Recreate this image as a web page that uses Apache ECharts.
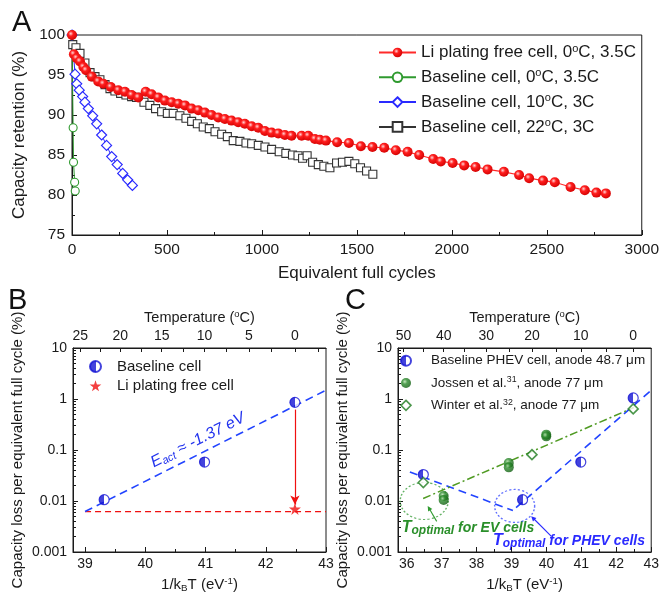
<!DOCTYPE html>
<html>
<head>
<meta charset="utf-8">
<script src="https://cdn.jsdelivr.net/npm/echarts@6/dist/echarts.min.js"></script>
<style>
  html, body { margin: 0; padding: 0; background: #fff; }
  #chart { width: 662px; height: 594px; }
</style>
</head>
<body>
<div id="chart"></div>
<script>
// ---------- constants ----------
const KB = 8.617333e-5;                       // Boltzmann constant, eV/K
const invKT = tC => 1 / (KB * (tC + 273.15)); // 1/kBT in eV^-1
const tempOf = x => 1 / (KB * x) - 273.15;    // back to degrees C

// ---------- panel A: capacity retention vs equivalent full cycles ----------
const liFreeCycles = [0, 10, 25, 42, 60, 74, 104, 138, 165, 204, 244, 279, 314, 349, 388, 419, 454, 489, 525, 560,
  595, 630, 665, 700, 735, 770, 805, 840, 875, 910, 946, 981, 1016, 1051, 1086, 1121, 1156, 1209, 1244, 1279,
  1305, 1337, 1396, 1458, 1521, 1582, 1644, 1705, 1767, 1828, 1902, 1942, 2004, 2065, 2125, 2188, 2274, 2354, 2407, 2480,
  2542, 2625, 2700, 2761, 2811];
const liFreeRetention = [100, 97.6, 97.1, 96.7, 96.0, 95.6, 94.8, 94.2, 93.9, 93.5, 93.1, 92.9, 92.5, 92.2, 92.9, 92.6, 92.2, 91.8, 91.6, 91.4,
  91.2, 90.8, 90.6, 90.3, 90.0, 89.7, 89.5, 89.3, 89.1, 88.9, 88.6, 88.4, 88.0, 87.8, 87.7, 87.5, 87.4, 87.4, 87.4, 87.0,
  86.9, 86.8, 86.6, 86.5, 86.1, 86.0, 85.9, 85.6, 85.4, 85.0, 84.5, 84.2, 84.0, 83.7, 83.5, 83.2, 82.9, 82.5, 82.1, 81.8,
  81.6, 81.0, 80.6, 80.3, 80.2];

const base0Cycles = [0, 6, 8, 14, 17];
const base0Retention = [100, 88.4, 84.1, 81.6, 80.5];

const base10Cycles = [0, 16, 25, 38, 56, 68, 86, 109, 130, 156, 182, 209, 238, 267, 293, 318];
const base10Retention = [100, 95.1, 93.9, 93.1, 92.3, 91.6, 90.8, 89.9, 88.9, 87.5, 86.2, 84.8, 83.8, 82.7, 81.9, 81.2];

const base22Cycles = [4, 21, 42, 68, 95, 121, 147, 174, 200, 226, 256, 284, 314, 340, 379, 410, 440, 472, 502, 533,
  568, 600, 630, 660, 691, 723, 753, 788, 818, 849, 884, 916, 946, 981, 1016, 1051, 1091, 1126, 1161, 1190,
  1214, 1238, 1267, 1297, 1326, 1358, 1393, 1424, 1458, 1489, 1519, 1551, 1584];
const base22Retention = [98.8, 98.4, 97.7, 96.5, 95.3, 94.8, 94.4, 93.8, 93.3, 93.0, 92.7, 92.5, 92.3, 92.2, 91.6, 91.2, 90.8, 90.4, 90.2, 90.2,
  89.9, 89.6, 89.2, 88.9, 88.5, 88.3, 87.9, 87.6, 87.3, 86.8, 86.7, 86.5, 86.4, 86.2, 86.0, 85.7, 85.4, 85.2, 85.0, 84.9,
  84.6, 84.9, 84.1, 83.8, 83.6, 83.4, 84.0, 84.1, 84.2, 83.9, 83.4, 83.0, 82.6];

// ---------- panel B: Arrhenius plot, baseline vs Li plating free ----------
const baselineTempsB = [22, 10, 0];
const baselineLossB = [0.0106, 0.058, 0.86];
const platingFreeTempsB = [0];
const platingFreeLossB = [0.0070];
const platingFloorLoss = 0.0062;     // dashed floor level
const eActB = -1.37;                 // activation energy, eV
const fitRangeB = [39, 43];
const arrowLossB = [0.62, 0.0085];   // red arrow from/to

// ---------- panel C: comparison with literature ----------
const phevTempsC = [45, 22, 10, 0];
const phevLossC = [0.033, 0.0106, 0.058, 1.05];
const jossenTempsC = [40, 40, 25, 25, 17, 17];
const jossenLossC = [0.0125, 0.0105, 0.0556, 0.0457, 0.20, 0.185];
const winterTempsC = [45, 20, 0];
const winterLossC = [0.023, 0.081, 0.64];
const phevLowArmX = [36.09, 39.04];
const phevLowArmLoss = [0.037, 0.0065];
const phevHighArmX = [39.13, 43];
const evFitX = [36.47, 42.5];
const evFitLoss = [0.0112, 0.68];
const evRing = [36.5, 0.010];
const phevRing = [39.09, 0.008];

// ---------- axis tick labels ----------
const xTicksB = [39, 40, 41, 42, 43];
const xMinorB = [39.5, 40.5, 41.5, 42.5];
const xTicksC = [36, 37, 38, 39, 40, 41, 42, 43];
const xMinorC = [36.5, 37.5, 38.5, 39.5, 40.5, 41.5, 42.5];
const topLabelTempsB = [25, 20, 15, 10, 5, 0];
const topTickTempsB = [25, 22.5, 20, 17.5, 15, 12.5, 10, 7.5, 5, 2.5, 0, -2.5];
const topLabelTempsC = [50, 40, 30, 20, 10, 0];
const topTickTempsC = [50, 45, 40, 35, 30, 25, 20, 15, 10, 5, 0, -5];

// ---------- helpers ----------
const zip = (xs, ys) => xs.map((x, i) => [x, ys[i]]);
const arrhenius = x => platingFloorLoss * Math.exp(-eActB * (x - fitRangeB[0]));
const FONT = '"Liberation Sans", Arial, sans-serif';
const INK = '#1a1a1a';
const RED = '#f01010', GREEN = '#2f9a2f', BLUE = '#2a2aff', DBLUE = '#1414d4', DGREEN = '#1f7d1f';
const STAR = 'path://M50,0 L61.8,35.1 L98.1,35.1 L68.8,56.7 L79.4,90.9 L50,69.1 L20.6,90.9 L31.2,56.7 L1.9,35.1 L38.2,35.1 Z';
const DIAMOND = 'path://M50,0 L100,50 L50,100 L0,50 Z';
const halfFill = c => ({ type: 'linear', x: 0, y: 0, x2: 1, y2: 0,
  colorStops: [{ offset: 0, color: c }, { offset: 0.5, color: c }, { offset: 0.5, color: '#fff' }, { offset: 1, color: '#fff' }] });
const sphere = (hi, mid, lo) => ({ type: 'radial', x: 0.38, y: 0.36, r: 0.7,
  colorStops: [{ offset: 0, color: hi }, { offset: 0.35, color: mid }, { offset: 1, color: lo }] });

const baseAxis = (fs) => ({
  axisLine: { lineStyle: { color: INK, width: 1 } },
  axisTick: { inside: true, length: 5, lineStyle: { color: INK } },
  splitLine: { show: false },
  axisLabel: { color: INK, fontFamily: FONT, fontSize: fs },
  nameTextStyle: { color: INK, fontFamily: FONT }
});

const subSup = fs => ({
  t: { fontSize: fs, fontFamily: FONT, color: INK, lineHeight: fs + 2 },
  sup: { fontSize: fs * 0.65, fontFamily: FONT, color: INK, verticalAlign: 'top', lineHeight: fs * 0.75 },
  sub: { fontSize: fs * 0.65, fontFamily: FONT, color: INK, verticalAlign: 'bottom', lineHeight: fs * 0.6 }
});

const superscriptDeg = s => {
  const i = s.indexOf('\u00b0');
  return i < 0 ? '{t|' + s + '}' : '{t|' + s.slice(0, i) + '}{sup|o}{t|' + s.slice(i + 1) + '}';
};

const legendLabelsC = {
  'Baseline PHEV cell, anode 48.7 \u03bcm': '{t|Baseline PHEV cell, anode 48.7 \u03bcm}',
  'Jossen et al., anode 77 \u03bcm': '{t|Jossen et al.}{sup|31}{t|, anode 77 \u03bcm}',
  'Winter et al., anode 77 \u03bcm': '{t|Winter et al.}{sup|32}{t|, anode 77 \u03bcm}'
};

const logLabel = v => v >= 1 ? String(Math.round(v)) : String(+v.toPrecision(1));

const chart = echarts.init(document.getElementById('chart'), null, { renderer: 'canvas' });

const option = {
  animation: false,
  backgroundColor: '#fff',
  textStyle: { fontFamily: FONT },
  grid: [
    { left: 72, top: 35, width: 570, height: 200, show: true, borderColor: INK, borderWidth: 1 },
    { left: 73, top: 348, width: 253, height: 204, show: true, borderColor: INK, borderWidth: 1 },
    { left: 398, top: 348, width: 254, height: 204, show: true, borderColor: INK, borderWidth: 1 }
  ],
  xAxis: [
    Object.assign(baseAxis(15.5), {
      gridIndex: 0, type: 'value', min: 0, max: 3000, interval: 500,
      minorTick: { show: true, splitNumber: 2, length: 3, lineStyle: { color: INK } },
      name: 'Equivalent full cycles', nameLocation: 'middle', nameGap: 30,
      nameTextStyle: { color: INK, fontFamily: FONT, fontSize: 17 },
      axisLabel: { color: INK, fontFamily: FONT, fontSize: 15.5, margin: 7, formatter: v => String(v) }
    }),
    Object.assign(baseAxis(14), {
      gridIndex: 1, type: 'value', min: 38.8, max: 43,
      axisTick: { inside: true, length: 5, lineStyle: { color: INK }, customValues: xTicksB },
      axisLabel: { color: INK, fontFamily: FONT, fontSize: 14, margin: 5, customValues: xTicksB },
      name: '{t|1/k}{sub|B}{t|T (eV}{sup|-1}{t|)}', nameLocation: 'middle', nameGap: 24,
      nameTextStyle: { rich: subSup(15) }
    }),
    Object.assign(baseAxis(14), {
      gridIndex: 1, type: 'value', position: 'top', min: 38.8, max: 43,
      axisTick: { inside: true, length: 4, lineStyle: { color: INK }, customValues: topTickTempsB.map(invKT) },
      axisLabel: { color: INK, fontFamily: FONT, fontSize: 14, margin: 5,
        customValues: topLabelTempsB.map(invKT), formatter: v => String(Math.round(tempOf(v)) || 0) },
      name: '{t|Temperature (}{sup|o}{t|C)}', nameLocation: 'middle', nameGap: 22,
      nameTextStyle: { rich: subSup(14.5) }
    }),
    Object.assign(baseAxis(14), {
      gridIndex: 2, type: 'value', min: 35.75, max: 43,
      axisTick: { inside: true, length: 5, lineStyle: { color: INK }, customValues: xTicksC },
      axisLabel: { color: INK, fontFamily: FONT, fontSize: 14, margin: 5, customValues: xTicksC },
      name: '{t|1/k}{sub|B}{t|T (eV}{sup|-1}{t|)}', nameLocation: 'middle', nameGap: 24,
      nameTextStyle: { rich: subSup(15) }
    }),
    Object.assign(baseAxis(14), {
      gridIndex: 2, type: 'value', position: 'top', min: 35.75, max: 43,
      axisTick: { inside: true, length: 4, lineStyle: { color: INK }, customValues: topTickTempsC.map(invKT) },
      axisLabel: { color: INK, fontFamily: FONT, fontSize: 14, margin: 5,
        customValues: topLabelTempsC.map(invKT), formatter: v => String(Math.round(tempOf(v)) || 0) },
      name: '{t|Temperature (}{sup|o}{t|C)}', nameLocation: 'middle', nameGap: 22,
      nameTextStyle: { rich: subSup(14.5) }
    }),
    {
      gridIndex: 1, type: 'value', min: 38.8, max: 43, position: 'bottom',
      axisLine: { show: false }, axisLabel: { show: false }, splitLine: { show: false },
      axisTick: { inside: true, length: 3, lineStyle: { color: INK }, customValues: xMinorB }
    },
    {
      gridIndex: 2, type: 'value', min: 35.75, max: 43, position: 'bottom',
      axisLine: { show: false }, axisLabel: { show: false }, splitLine: { show: false },
      axisTick: { inside: true, length: 3, lineStyle: { color: INK }, customValues: xMinorC }
    }
  ],
  yAxis: [
    Object.assign(baseAxis(15.5), {
      gridIndex: 0, type: 'value', min: 75, max: 100, interval: 5,
      minorTick: { show: true, splitNumber: 2, length: 3, lineStyle: { color: INK } },
      axisLabel: { color: INK, fontFamily: FONT, fontSize: 15.5, margin: 7 },
      name: 'Capacity retention (%)', nameLocation: 'middle', nameGap: 38,
      nameTextStyle: { color: INK, fontFamily: FONT, fontSize: 17 }
    }),
    Object.assign(baseAxis(14), {
      gridIndex: 1, type: 'log', logBase: 10, min: 0.001, max: 10,
      minorTick: { show: true, splitNumber: 9, length: 3, lineStyle: { color: INK } },
      axisLabel: { color: INK, fontFamily: FONT, fontSize: 14, margin: 6, formatter: logLabel },
      name: 'Capacity loss per equivalent full cycle (%)', nameLocation: 'middle', nameGap: 48,
      nameTextStyle: { color: INK, fontFamily: FONT, fontSize: 15 }
    }),
    Object.assign(baseAxis(14), {
      gridIndex: 2, type: 'log', logBase: 10, min: 0.001, max: 10,
      minorTick: { show: true, splitNumber: 9, length: 3, lineStyle: { color: INK } },
      axisLabel: { color: INK, fontFamily: FONT, fontSize: 14, margin: 6, formatter: logLabel },
      name: 'Capacity loss per equivalent full cycle (%)', nameLocation: 'middle', nameGap: 48,
      nameTextStyle: { color: INK, fontFamily: FONT, fontSize: 15 }
    })
  ],
  legend: [
    {
      data: ['Li plating free cell, 0\u00b0C, 3.5C', 'Baseline cell, 0\u00b0C, 3.5C', 'Baseline cell, 10\u00b0C, 3C', 'Baseline cell, 22\u00b0C, 3C'],
      left: 378, top: 43, orient: 'vertical', padding: 0, selectedMode: false,
      itemWidth: 37, itemHeight: 12, itemGap: 5.8,
      formatter: superscriptDeg,
      textStyle: { rich: subSup(17), lineHeight: 17, fontSize: 17 }
    },
    {
      data: ['Baseline cell', 'Li plating free cell'],
      left: 89, top: 359, orient: 'vertical', padding: 0, selectedMode: false,
      itemWidth: 33, itemHeight: 11, itemGap: 4.3,
      textStyle: { color: INK, fontFamily: FONT, fontSize: 15, lineHeight: 15 }
    },
    {
      data: Object.keys(legendLabelsC).map(n => n.indexOf('Winter') === 0
        ? { name: n, icon: DIAMOND, itemStyle: { color: '#fff', borderColor: DGREEN, borderWidth: 1.6 } }
        : n),
      left: 400, top: 353, orient: 'vertical', padding: 0, selectedMode: false,
      itemWidth: 40, itemHeight: 10, itemGap: 6.8,
      formatter: n => legendLabelsC[n],
      textStyle: { rich: subSup(13.5), lineHeight: 14, fontSize: 13.5 }
    }
  ],
  series: [
    // ----- panel A -----
    {
      name: 'Baseline cell, 22\u00b0C, 3C', type: 'line', xAxisIndex: 0, yAxisIndex: 0,
      data: zip(base22Cycles, base22Retention), symbol: 'rect', symbolSize: 8, showAllSymbol: true,
      lineStyle: { color: '#333', width: 1 }, itemStyle: { color: '#fff', borderColor: '#333', borderWidth: 1.1 }
    },
    {
      name: 'Baseline cell, 10\u00b0C, 3C', type: 'line', xAxisIndex: 0, yAxisIndex: 0,
      data: zip(base10Cycles, base10Retention), symbol: 'diamond', symbolSize: 10, showAllSymbol: true,
      lineStyle: { color: BLUE, width: 1 }, itemStyle: { color: '#fff', borderColor: BLUE, borderWidth: 1.2 }
    },
    {
      name: 'Baseline cell, 0\u00b0C, 3.5C', type: 'line', xAxisIndex: 0, yAxisIndex: 0,
      data: zip(base0Cycles, base0Retention), symbol: 'circle', symbolSize: 8, showAllSymbol: true,
      lineStyle: { color: GREEN, width: 1 }, itemStyle: { color: '#fff', borderColor: GREEN, borderWidth: 1.1 }
    },
    {
      name: 'Li plating free cell, 0\u00b0C, 3.5C', type: 'line', xAxisIndex: 0, yAxisIndex: 0,
      data: zip(liFreeCycles, liFreeRetention), symbol: 'circle', symbolSize: 10, showAllSymbol: true,
      lineStyle: { color: '#ff2a2a', width: 1.2 }, itemStyle: { color: sphere('#ffd6d6', '#ff1e1e', '#d00000') }
    },
    // ----- panel B -----
    {
      type: 'line', xAxisIndex: 1, yAxisIndex: 1, symbol: 'none', z: 2, silent: true,
      data: fitRangeB.map(x => [x, platingFloorLoss]),
      lineStyle: { color: RED, width: 1.3, type: [6, 4] },
      markLine: {
        silent: true, symbol: ['none', 'arrow'], symbolSize: [7, 9],
        label: { show: false }, lineStyle: { color: RED, width: 1.2, type: 'solid' },
        data: [[{ coord: [invKT(0), arrowLossB[0]] }, { coord: [invKT(0), arrowLossB[1]] }]]
      }
    },
    {
      type: 'line', xAxisIndex: 1, yAxisIndex: 1, symbol: 'none', z: 2, silent: true,
      data: fitRangeB.map(x => [x, arrhenius(x)]),
      lineStyle: { color: '#2244ff', width: 1.6, type: [8, 5] }
    },
    {
      name: 'Baseline cell', type: 'scatter', xAxisIndex: 1, yAxisIndex: 1, z: 5,
      data: zip(baselineTempsB.map(invKT), baselineLossB), symbol: 'circle', symbolSize: 10,
      itemStyle: { color: halfFill(DBLUE), borderColor: DBLUE, borderWidth: 1.2 }
    },
    {
      name: 'Li plating free cell', type: 'scatter', xAxisIndex: 1, yAxisIndex: 1, z: 5,
      data: zip(platingFreeTempsB.map(invKT), platingFreeLossB), symbol: STAR, symbolSize: 12,
      itemStyle: { color: RED }
    },
    // ----- panel C -----
    {
      type: 'line', xAxisIndex: 3, yAxisIndex: 2, symbol: 'none', z: 2, silent: true,
      data: zip(phevLowArmX, phevLowArmLoss),
      lineStyle: { color: '#2244ff', width: 1.6, type: [8, 5] }
    },
    {
      type: 'line', xAxisIndex: 3, yAxisIndex: 2, symbol: 'none', z: 2, silent: true,
      data: phevHighArmX.map(x => [x, arrhenius(x)]),
      lineStyle: { color: '#2244ff', width: 1.6, type: [8, 5] }
    },
    {
      type: 'line', xAxisIndex: 3, yAxisIndex: 2, symbol: 'none', z: 2, silent: true,
      data: zip(evFitX, evFitLoss),
      lineStyle: { color: '#4f9a22', width: 1.5, type: [8, 3, 2, 3] }
    },
    {
      type: 'scatter', xAxisIndex: 3, yAxisIndex: 2, z: 1, silent: true,
      data: [evRing], symbol: 'circle', symbolSize: [48, 37],
      itemStyle: { color: 'transparent', borderColor: '#3f9f3f', borderWidth: 1.3, borderType: [2, 2] }
    },
    {
      type: 'scatter', xAxisIndex: 3, yAxisIndex: 2, z: 1, silent: true,
      data: [phevRing], symbol: 'circle', symbolSize: [40, 33],
      itemStyle: { color: 'transparent', borderColor: '#3a4cff', borderWidth: 1.3, borderType: [2, 2] }
    },
    {
      name: 'Baseline PHEV cell, anode 48.7 \u03bcm', type: 'scatter', xAxisIndex: 3, yAxisIndex: 2, z: 5,
      data: zip(phevTempsC.map(invKT), phevLossC), symbol: 'circle', symbolSize: 10,
      itemStyle: { color: halfFill(DBLUE), borderColor: DBLUE, borderWidth: 1.2 }
    },
    {
      name: 'Jossen et al., anode 77 \u03bcm', type: 'scatter', xAxisIndex: 3, yAxisIndex: 2, z: 5,
      data: zip(jossenTempsC.map(invKT), jossenLossC), symbol: 'circle', symbolSize: 10,
      itemStyle: { color: sphere('#b8e0b0', '#2a8a2a', '#0f5a0f') }
    },
    {
      name: 'Winter et al., anode 77 \u03bcm', type: 'scatter', xAxisIndex: 3, yAxisIndex: 2, z: 6,
      data: zip(winterTempsC.map(invKT), winterLossC), symbol: 'diamond', symbolSize: 10, symbolKeepAspect: true,
      itemStyle: { color: '#fff', borderColor: DGREEN, borderWidth: 1.6 }
    }
  ]
};

chart.setOption(option);

// ---------- annotations placed through the axes ----------
const toB = p => chart.convertToPixel({ xAxisIndex: 1, yAxisIndex: 1 }, p);
const toC = p => chart.convertToPixel({ xAxisIndex: 3, yAxisIndex: 2 }, p);

const fitStart = toB([fitRangeB[0], arrhenius(fitRangeB[0])]);
const fitEnd = toB([fitRangeB[1], arrhenius(fitRangeB[1])]);
const slopeAngle = Math.atan2(fitStart[1] - fitEnd[1], fitEnd[0] - fitStart[0]);
const eLabelAt = toB([40.97, arrhenius(40.97)]);
const eOffset = 13;

const arrowGraphic = (from, to, color) => {
  const dx = to[0] - from[0], dy = to[1] - from[1];
  const len = Math.hypot(dx, dy), ux = dx / len, uy = dy / len;
  const head = 5, half = 2.4;
  return [
    { type: 'line', shape: { x1: from[0], y1: from[1], x2: to[0] - ux * 3, y2: to[1] - uy * 3 },
      style: { stroke: color, lineWidth: 1.1 } },
    { type: 'polygon', shape: { points: [
        [to[0], to[1]],
        [to[0] - ux * head - uy * half, to[1] - uy * head + ux * half],
        [to[0] - ux * head + uy * half, to[1] - uy * head - ux * half]] },
      style: { fill: color } }
  ];
};

const evC = toC(evRing);
const phC = toC(phevRing);
const optRich = (color) => ({
  T: { fontSize: 16, fontStyle: 'italic', fontWeight: 'bold', fill: color, fontFamily: FONT, lineHeight: 18 },
  o: { fontSize: 12, fontStyle: 'italic', fontWeight: 'bold', fill: color, fontFamily: FONT, verticalAlign: 'bottom', lineHeight: 12 },
  r: { fontSize: 14, fontStyle: 'italic', fontWeight: 'bold', fill: color, fontFamily: FONT, lineHeight: 18 }
});

const letter = (txt, x, y) => ({ type: 'text', x, y,
  style: { text: txt, fontSize: 29, fontFamily: FONT, fill: '#111', verticalAlign: 'middle', align: 'left' } });

chart.setOption({
  graphic: [
    letter('A', 12, 23),
    letter('B', 8, 301),
    letter('C', 345, 301),
    {
      type: 'text', x: eLabelAt[0] - Math.sin(slopeAngle) * eOffset, y: eLabelAt[1] - Math.cos(slopeAngle) * eOffset,
      rotation: slopeAngle,
      style: {
        text: '{e|E}{s|act}{e| \u2248 -1.37 eV}', align: 'center', verticalAlign: 'middle',
        rich: {
          e: { fontSize: 16, fontStyle: 'italic', fill: '#2233ee', fontFamily: FONT, lineHeight: 18 },
          s: { fontSize: 11, fontStyle: 'italic', fill: '#2233ee', fontFamily: FONT, verticalAlign: 'bottom', lineHeight: 11 }
        }
      }
    },
    {
      type: 'text', x: evC[0] - 22.5, y: evC[1] + 27,
      style: { text: '{T|T}{o|optimal}{r| for EV cells}', verticalAlign: 'middle', align: 'left', rich: optRich('#2a8f2a') }
    },
    {
      type: 'text', x: phC[0] - 21.7, y: phC[1] + 35,
      style: { text: '{T|T}{o|optimal}{r| for PHEV cells}', verticalAlign: 'middle', align: 'left', rich: optRich('#2a2aff') }
    },
    ...arrowGraphic([evC[0] + 12.5, evC[1] + 20.4], [evC[0] + 3.5, evC[1] + 5], '#2f9a2f'),
    ...arrowGraphic([phC[0] + 36.7, phC[1] + 30.4], [phC[0] + 16.5, phC[1] + 10.2], '#2a2aff')
  ]
});
</script>
</body>
</html>
